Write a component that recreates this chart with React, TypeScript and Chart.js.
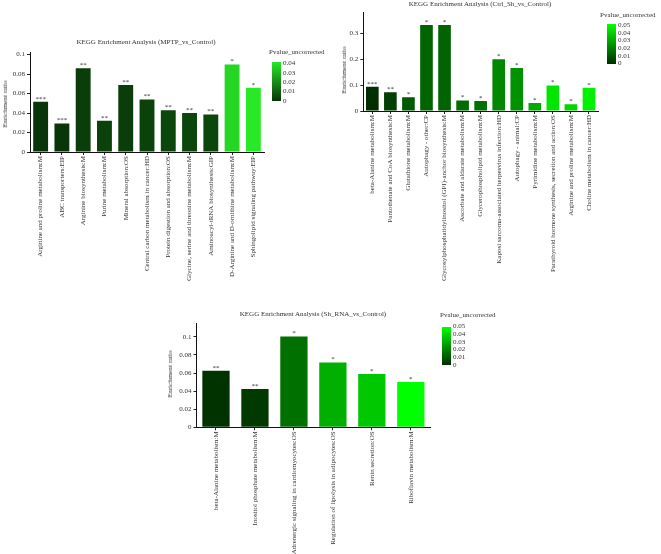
import { useEffect, useRef } from "react";
import { Chart, registerables, type Plugin } from "chart.js";

Chart.register(...registerables);

const FONT = "'Liberation Serif', 'Times New Roman', serif";

// ---- MPTP_vs_Control ----
const mptpPathways = [
  "Arginine and proline metabolism:M",
  "ABC transporters:EIP",
  "Arginine biosynthesis:M",
  "Purine metabolism:M",
  "Mineral absorption:OS",
  "Central carbon metabolism in cancer:HD",
  "Protein digestion and absorption:OS",
  "Glycine, serine and threonine metabolism:M",
  "Aminoacyl-tRNA biosynthesis:GIP",
  "D-Arginine and D-ornithine metabolism:M",
  "Sphingolipid signaling pathway:EIP",
];
const mptpRatio = [0.0515, 0.0293, 0.086, 0.032, 0.0688, 0.054, 0.043, 0.040, 0.0385, 0.090, 0.066];
const mptpPvalue = [0.0004, 0.0005, 0.002, 0.003, 0.002, 0.003, 0.004, 0.004, 0.004, 0.036, 0.04];
const mptpStars = ["***", "***", "**", "**", "**", "**", "**", "**", "**", "*", "*"];
const mptpYTicks = [0, 0.02, 0.04, 0.06, 0.08, 0.1];
const mptpLegendTicks = ["0.04", "0.03", "0.02", "0.01", "0"];

// ---- Ctrl_Sh_vs_Control ----
const ctrlPathways = [
  "beta-Alanine metabolism:M",
  "Pantothenate and CoA biosynthesis:M",
  "Glutathione metabolism:M",
  "Autophagy - other:CP",
  "Glycosylphosphatidylinositol (GPI)-anchor biosynthesis:M",
  "Ascorbate and aldarate metabolism:M",
  "Glycerophospholipid metabolism:M",
  "Kaposi sarcoma-associated herpesvirus infection:HD",
  "Autophagy - animal:CP",
  "Pyrimidine metabolism:M",
  "Parathyroid hormone synthesis, secretion and action:OS",
  "Arginine and proline metabolism:M",
  "Choline metabolism in cancer:HD",
];
const ctrlRatio = [0.094, 0.072, 0.053, 0.332, 0.332, 0.041, 0.039, 0.2, 0.166, 0.031, 0.099, 0.026, 0.09];
const ctrlPvalue = [0.0005, 0.0045, 0.011, 0.013, 0.013, 0.015, 0.016, 0.022, 0.024, 0.03, 0.044, 0.04, 0.047];
const ctrlStars = ["***", "**", "*", "*", "*", "*", "*", "*", "*", "*", "*", "*", "*"];
const ctrlYTicks = [0, 0.1, 0.2, 0.3];
const ctrlLegendTicks = ["0.05", "0.04", "0.03", "0.02", "0.01", "0"];

// ---- Sh_RNA_vs_Control ----
const shPathways = [
  "beta-Alanine metabolism:M",
  "Inositol phosphate metabolism:M",
  "Adrenergic signaling in cardiomyocytes:OS",
  "Regulation of lipolysis in adipocytes:OS",
  "Renin secretion:OS",
  "Riboflavin metabolism:M",
];
const shRatio = [0.0625, 0.0423, 0.1004, 0.0717, 0.0588, 0.05];
const shPvalue = [0.0015, 0.003, 0.016, 0.031, 0.037, 0.05];
const shStars = ["**", "**", "*", "*", "*", "*"];
const shYTicks = [0, 0.02, 0.04, 0.06, 0.08, 0.1];
const shLegendTicks = ["0.05", "0.04", "0.03", "0.02", "0.01", "0"];

type RGB = [number, number, number];
const LOW: RGB = [0, 45, 0];
const HIGH: RGB = [0, 255, 0];

function colorFor(p: number, pmax: number, low: RGB, high: RGB) {
  const t = Math.max(0, Math.min(1, p / pmax));
  const c = low.map((l, i) => Math.round(l + (high[i] - l) * t));
  return `rgb(${c[0]},${c[1]},${c[2]})`;
}

const starPlugin: Plugin<"bar"> = {
  id: "stars",
  afterDatasetsDraw(chart, _args, opts: any) {
    const marks: string[] = opts.marks ?? [];
    const meta = chart.getDatasetMeta(0);
    const ctx = chart.ctx;
    ctx.save();
    ctx.font = `7px ${FONT}`;
    ctx.fillStyle = "#333";
    ctx.textAlign = "center";
    ctx.textBaseline = "middle";
    meta.data.forEach((bar, i) => {
      const { x, y } = bar.getProps(["x", "y"], true) as { x: number; y: number };
      ctx.fillText(marks[i] ?? "", x, y - 3);
    });
    ctx.restore();
  },
};

interface PanelProps {
  title: string;
  labels: string[];
  values: number[];
  pvalues: number[];
  stars: string[];
  yTicks: number[];
  yMax: number;
  pmax: number;
  low: RGB;
  high: RGB;
  legendTicks: string[];
  box: { left: number; top: number; width: number; height: number };
  area: { yWidth: number; padTop: number; padRight: number; xHeight: number };
  titlePos: { x: number; y: number };
  yTitlePos: { x: number; y: number };
  legend: { textX: number; textY: number; barX: number; barTop: number; barBottom: number; tickTop: number; tickStep: number };
}

function Panel(p: PanelProps) {
  const canvasRef = useRef<HTMLCanvasElement>(null);

  useEffect(() => {
    if (!canvasRef.current) return;
    const colors = p.pvalues.map((v) => colorFor(v, p.pmax, p.low, p.high));
    const tickFont = { size: 7, family: FONT };
    const chart = new Chart(canvasRef.current, {
      type: "bar",
      data: {
        labels: p.labels,
        datasets: [{ data: p.values, backgroundColor: colors, barPercentage: 0.7, categoryPercentage: 1 }],
      },
      options: {
        animation: false,
        responsive: false,
        layout: { padding: { top: p.area.padTop, right: p.area.padRight, left: 0, bottom: 0 } },
        plugins: {
          legend: { display: false },
          tooltip: { enabled: false },
          stars: { marks: p.stars },
        } as any,
        scales: {
          x: {
            offset: true,
            grid: { display: true, drawOnChartArea: false, offset: false, tickLength: 3, color: "#222" },
            border: { display: true, color: "#111", width: 1 },
            ticks: { autoSkip: false, minRotation: 90, maxRotation: 90, padding: 1, color: "#333", font: tickFont },
            afterFit: (s) => { s.height = p.area.xHeight; },
          },
          y: {
            min: 0,
            max: p.yMax,
            grid: { display: true, drawOnChartArea: false, tickLength: 3, color: "#222" },
            border: { display: true, color: "#111", width: 1 },
            ticks: {
              padding: 2,
              color: "#333",
              font: tickFont,
              callback: (v) => String(Math.round(Number(v) * 1000) / 1000),
            },
            afterBuildTicks: (s) => { s.ticks = p.yTicks.map((value) => ({ value })); },
            afterFit: (s) => { s.width = p.area.yWidth; },
          },
        },
      },
      plugins: [starPlugin],
    });
    return () => chart.destroy();
  }, []);

  const text: React.CSSProperties = {
    position: "absolute",
    fontFamily: FONT,
    fontSize: 7,
    color: "#333",
    whiteSpace: "nowrap",
    lineHeight: "8px",
  };
  const lowC = colorFor(0, 1, p.low, p.high);
  const highC = colorFor(1, 1, p.low, p.high);

  return (
    <>
      <canvas
        ref={canvasRef}
        width={p.box.width}
        height={p.box.height}
        style={{ position: "absolute", left: p.box.left, top: p.box.top, width: p.box.width, height: p.box.height }}
      />
      <div style={{ ...text, left: p.titlePos.x, top: p.titlePos.y, transform: "translate(-50%, -50%)" }}>{p.title}</div>
      <div style={{ ...text, left: p.yTitlePos.x, top: p.yTitlePos.y, transform: "translate(-50%, -50%) rotate(-90deg)" }}>
        Enrichment ratio
      </div>
      <div style={{ ...text, left: p.legend.textX, top: p.legend.textY, transform: "translateY(-50%)" }}>Pvalue_uncorrected</div>
      <div
        style={{
          position: "absolute",
          left: p.legend.barX,
          top: p.legend.barTop,
          width: 9,
          height: p.legend.barBottom - p.legend.barTop,
          background: `linear-gradient(to top, ${lowC}, ${highC})`,
        }}
      />
      {p.legendTicks.map((t, i) => (
        <div
          key={t}
          style={{ ...text, left: p.legend.barX + 11, top: p.legend.tickTop + i * p.legend.tickStep, transform: "translateY(-50%)" }}
        >
          {t}
        </div>
      ))}
    </>
  );
}

export default function App() {
  return (
    <div style={{ position: "absolute", left: 0, top: 0, width: 661, height: 554, background: "#fff", overflow: "hidden" }}>
      <Panel
        title="KEGG Enrichment Analysis (MPTP_vs_Control)"
        labels={mptpPathways}
        values={mptpRatio}
        pvalues={mptpPvalue}
        stars={mptpStars}
        yTicks={mptpYTicks}
        yMax={0.102}
        pmax={0.04}
        low={[8, 52, 8]}
        high={[40, 232, 40]}
        legendTicks={mptpLegendTicks}
        box={{ left: 0, top: 30, width: 330, height: 270 }}
        area={{ yWidth: 30, padTop: 22.7, padRight: 66, xHeight: 148 }}
        titlePos={{ x: 146, y: 42 }}
        yTitlePos={{ x: 5, y: 104 }}
        legend={{ textX: 269, textY: 52, barX: 272, barTop: 62, barBottom: 101, tickTop: 63.3, tickStep: 9.35 }}
      />
      <Panel
        title="KEGG Enrichment Analysis (Ctrl_Sh_vs_Control)"
        labels={ctrlPathways}
        values={ctrlRatio}
        pvalues={ctrlPvalue}
        stars={ctrlStars}
        yTicks={ctrlYTicks}
        yMax={0.38}
        pmax={0.05}
        low={LOW}
        high={HIGH}
        legendTicks={ctrlLegendTicks}
        box={{ left: 330, top: 0, width: 331, height: 300 }}
        area={{ yWidth: 33.3, padTop: 12.7, padRight: 63, xHeight: 189 }}
        titlePos={{ x: 480, y: 4 }}
        yTitlePos={{ x: 344, y: 70 }}
        legend={{ textX: 600, textY: 15, barX: 607, barTop: 24, barBottom: 64, tickTop: 25, tickStep: 7.66 }}
      />
      <Panel
        title="KEGG Enrichment Analysis (Sh_RNA_vs_Control)"
        labels={shPathways}
        values={shRatio}
        pvalues={shPvalue}
        stars={shStars}
        yTicks={shYTicks}
        yMax={0.115}
        pmax={0.05}
        low={LOW}
        high={HIGH}
        legendTicks={shLegendTicks}
        box={{ left: 150, top: 310, width: 350, height: 244 }}
        area={{ yWidth: 46.5, padTop: 13.3, padRight: 69.7, xHeight: 126.7 }}
        titlePos={{ x: 313, y: 314 }}
        yTitlePos={{ x: 170, y: 374 }}
        legend={{ textX: 440, textY: 315, barX: 442, barTop: 327, barBottom: 365, tickTop: 326, tickStep: 7.8 }}
      />
    </div>
  );
}
